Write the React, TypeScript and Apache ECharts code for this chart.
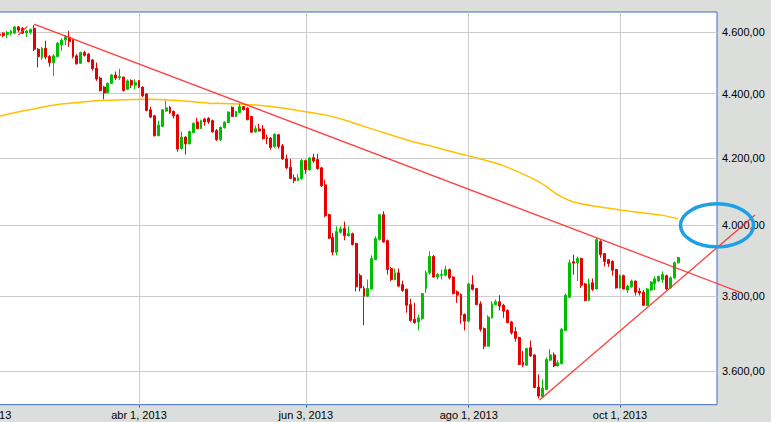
import React, { useEffect, useRef } from 'react';
import * as echarts from 'echarts';

// Trading calendar (Santiago exchange, 2013)
const START_DATE = '2013-02-01';
const CATEGORY_COUNT = 190;
const HOLIDAYS = ['2013-03-29', '2013-05-01', '2013-05-21', '2013-07-16', '2013-08-15', '2013-09-18', '2013-09-19', '2013-09-20', '2013-10-31', '2013-11-01'];
const LABEL_DATES = ['2013-02-01', '2013-04-01', '2013-06-03', '2013-08-01', '2013-10-01'];
const MONTHS_ES = ['ene', 'feb', 'mar', 'abr', 'may', 'jun', 'jul', 'ago', 'sep', 'oct', 'nov', 'dic'];

// index (in the calendar) of the first candle shown
const FIRST_CANDLE = 4;

const OPEN = [4594, 4597, 4593, 4595, 4597, 4618, 4613, 4598, 4600, 4613,
  4544, 4516, 4547, 4520, 4500, 4520, 4558, 4574, 4583, 4574,
  4522, 4498, 4533, 4528, 4509, 4482, 4450, 4421, 4403, 4433,
  4460, 4451, 4453, 4414, 4442, 4427, 4442, 4421, 4399, 4349,
  4330, 4268, 4297, 4345, 4357, 4344, 4333, 4229, 4264, 4243,
  4278, 4311, 4290, 4320, 4322, 4315, 4284, 4256, 4293, 4309,
  4357, 4328, 4340, 4359, 4354, 4328, 4280, 4289, 4289, 4263,
  4261, 4235, 4271, 4237, 4197, 4172, 4140, 4132, 4138, 4192,
  4164, 4201, 4195, 4170, 4119, 4031, 3965, 3923, 3980, 3991,
  3970, 3976, 3948, 3857, 3821, 3800, 3820, 3902, 3959, 4031,
  3956, 3877, 3846, 3865, 3832, 3819, 3777, 3737, 3730, 3739,
  3821, 3865, 3911, 3853, 3858, 3858, 3874, 3853, 3812, 3805,
  3750, 3732, 3832, 3821, 3779, 3712, 3665, 3741, 3777, 3785,
  3775, 3761, 3730, 3704, 3688, 3623, 3615, 3661, 3642, 3558,
  3533, 3552, 3628, 3642, 3613, 3619, 3707, 3797, 3896, 3893,
  3905, 3834, 3788, 3837, 3820, 3954, 3919, 3902, 3897, 3874,
  3823, 3857, 3817, 3826, 3842, 3814, 3811, 3775, 3817, 3835,
  3842, 3846, 3857, 3823, 3851, 3893];

const CLOSE = [4590, 4589, 4600, 4604, 4618, 4607, 4597, 4604, 4609, 4544,
  4520, 4547, 4518, 4500, 4522, 4564, 4574, 4585, 4569, 4520,
  4496, 4533, 4524, 4503, 4480, 4447, 4410, 4402, 4433, 4460,
  4450, 4455, 4410, 4441, 4428, 4435, 4421, 4393, 4347, 4326,
  4268, 4301, 4349, 4355, 4340, 4330, 4227, 4264, 4243, 4281,
  4307, 4290, 4315, 4311, 4311, 4280, 4256, 4294, 4310, 4342,
  4328, 4344, 4359, 4349, 4318, 4279, 4290, 4283, 4259, 4259,
  4232, 4272, 4235, 4197, 4170, 4138, 4132, 4140, 4192, 4164,
  4200, 4191, 4168, 4116, 4028, 3963, 3923, 3982, 3990, 3970,
  3976, 3945, 3826, 3823, 3800, 3821, 3905, 3962, 4031, 3952,
  3874, 3846, 3865, 3828, 3816, 3775, 3734, 3728, 3741, 3807,
  3865, 3911, 3853, 3860, 3860, 3874, 3851, 3807, 3803, 3748,
  3732, 3834, 3819, 3777, 3710, 3665, 3743, 3779, 3785, 3773,
  3759, 3728, 3701, 3686, 3617, 3615, 3659, 3639, 3557, 3535,
  3555, 3630, 3642, 3613, 3621, 3710, 3803, 3893, 3892, 3905,
  3830, 3788, 3834, 3819, 3959, 3916, 3897, 3891, 3872, 3823,
  3857, 3820, 3828, 3842, 3811, 3809, 3775, 3820, 3839, 3848,
  3855, 3860, 3820, 3851, 3893, 3908];

const LOW = [4587, 4584, 4580, 4589, 4594, 4600, 4594, 4584, 4593, 4538,
  4484, 4509, 4511, 4487, 4457, 4518, 4539, 4558, 4552, 4514,
  4494, 4496, 4520, 4501, 4474, 4441, 4407, 4382, 4401, 4431,
  4444, 4444, 4407, 4412, 4418, 4414, 4418, 4389, 4344, 4323,
  4266, 4267, 4296, 4343, 4336, 4322, 4219, 4225, 4210, 4242,
  4276, 4289, 4289, 4299, 4305, 4278, 4252, 4251, 4290, 4307,
  4327, 4326, 4338, 4347, 4316, 4278, 4278, 4281, 4256, 4242,
  4225, 4230, 4228, 4194, 4166, 4136, 4124, 4130, 4134, 4152,
  4162, 4185, 4164, 4113, 4024, 3961, 3914, 3914, 3976, 3957,
  3968, 3942, 3813, 3813, 3721, 3798, 3818, 3901, 3956, 3950,
  3860, 3842, 3844, 3825, 3812, 3755, 3730, 3725, 3707, 3734,
  3809, 3860, 3851, 3846, 3846, 3855, 3846, 3805, 3782, 3725,
  3707, 3730, 3816, 3775, 3704, 3657, 3664, 3739, 3775, 3761,
  3741, 3726, 3696, 3677, 3615, 3610, 3614, 3637, 3555, 3529,
  3532, 3550, 3626, 3610, 3612, 3617, 3706, 3796, 3860, 3842,
  3823, 3786, 3786, 3814, 3819, 3907, 3883, 3882, 3857, 3821,
  3821, 3819, 3809, 3823, 3802, 3802, 3773, 3773, 3814, 3817,
  3839, 3837, 3817, 3820, 3848, 3891];

const HIGH = [4598, 4600, 4604, 4608, 4620, 4621, 4618, 4608, 4613, 4624,
  4548, 4551, 4572, 4525, 4528, 4568, 4580, 4591, 4605, 4578,
  4528, 4536, 4539, 4532, 4512, 4500, 4455, 4425, 4436, 4463,
  4471, 4480, 4455, 4446, 4446, 4446, 4444, 4423, 4401, 4359,
  4333, 4315, 4351, 4378, 4361, 4347, 4335, 4281, 4266, 4284,
  4309, 4324, 4318, 4324, 4326, 4318, 4289, 4297, 4313, 4344,
  4360, 4346, 4368, 4361, 4357, 4330, 4299, 4305, 4301, 4272,
  4264, 4276, 4273, 4243, 4210, 4197, 4150, 4152, 4197, 4195,
  4202, 4213, 4213, 4173, 4134, 4034, 3978, 3997, 3997, 4011,
  3997, 3979, 3950, 3863, 3828, 3846, 3914, 3968, 4033, 4041,
  3959, 3881, 3877, 3877, 3843, 3821, 3793, 3782, 3750, 3809,
  3871, 3926, 3915, 3865, 3874, 3885, 3877, 3855, 3816, 3808,
  3753, 3837, 3858, 3823, 3786, 3715, 3748, 3786, 3791, 3803,
  3779, 3764, 3733, 3716, 3690, 3652, 3661, 3680, 3643, 3591,
  3578, 3635, 3657, 3648, 3628, 3714, 3807, 3902, 3916, 3911,
  3908, 3837, 3849, 3849, 3964, 3957, 3921, 3904, 3900, 3876,
  3860, 3860, 3832, 3846, 3843, 3823, 3817, 3823, 3842, 3855,
  3857, 3869, 3860, 3855, 3897, 3910];

// moving average: [calendar index, value]
const MA_POINTS = [[0, 4318], [4, 4329], [10, 4345], [15, 4357], [20, 4367], [25, 4373], [30, 4378],
  [36, 4381], [42, 4382], [50, 4378], [58, 4370], [64, 4368], [70, 4364], [76, 4356], [83, 4343],
  [88, 4333], [93, 4317], [98, 4297], [104, 4274], [110, 4252], [116, 4234], [122, 4215], [128, 4197],
  [134, 4176], [140, 4146], [144, 4122], [148, 4089], [152, 4068], [158, 4055], [164, 4045],
  [170, 4036], [175, 4029], [179, 4019]];

// hand-drawn trend lines: [calendar position, value]; they run past the last date
const TREND_DOWN = [[12.94, 4627], [195.2, 3810]];
const TREND_UP = [[143.26, 3525], [198.8, 4030]];
const TREND_SHORT = [[8.89, 4591], [11.21, 4619]];

// highlighted zone centre: [calendar position, value]
const HIGHLIGHT_CENTER = [189, 4000];

const Y_TICKS = [3600, 3800, 4000, 4200, 4400, 4600];
const Y_MIN = 3513;
const Y_MAX = 4668;

function pad(n: number) { return n < 10 ? '0' + n : '' + n; }

function buildCalendar(start: string, count: number, holidays: string[]) {
  const out: string[] = [];
  const [y, m, d] = start.split('-').map(Number);
  const t = new Date(Date.UTC(y, m - 1, d));
  while (out.length < count) {
    const dow = t.getUTCDay();
    const s = t.getUTCFullYear() + '-' + pad(t.getUTCMonth() + 1) + '-' + pad(t.getUTCDate());
    if (dow !== 0 && dow !== 6 && holidays.indexOf(s) < 0) out.push(s);
    t.setUTCDate(t.getUTCDate() + 1);
  }
  return out;
}

function fmtDate(s: string) {
  const [y, m, d] = s.split('-').map(Number);
  return MONTHS_ES[m - 1] + ' ' + d + ', ' + y;
}

function fmtNum(v: number) {
  const r = Math.round(v).toString();
  return r.replace(/\B(?=(\d{3})+(?!\d))/g, '.') + ',00';
}

export default function App() {
  const ref = useRef<HTMLDivElement>(null);
  useEffect(() => {
    if (!ref.current) return;
    const chart = echarts.init(ref.current, undefined, { renderer: 'svg' });
    const categories = buildCalendar(START_DATE, CATEGORY_COUNT, HOLIDAYS);
    const showAt = (_i: number, v: string) => LABEL_DATES.indexOf(v) >= 0;
    const candles = OPEN.map((o, k) => [FIRST_CANDLE + k, o, CLOSE[k], LOW[k], HIGH[k]]);
    const font = 'Liberation Sans, Arial, sans-serif';

    chart.setOption({
      animation: false,
      backgroundColor: '#dcdedb',
      grid: {
        left: 23.8, right: 54, top: 12, bottom: 17.3,
        outerBoundsMode: 'none',
        containLabel: false,
        show: true, backgroundColor: '#ffffff', borderColor: '#3a6bc9', borderWidth: 1,
      },
      xAxis: [
        {
          type: 'category',
          data: categories,
          boundaryGap: false,
          axisLine: { show: false },
          axisTick: { show: true, interval: showAt, length: 3, lineStyle: { color: '#3a6bc9' } },
          axisLabel: { interval: showAt, formatter: (v: string) => fmtDate(v), color: '#000', fontSize: 11, fontFamily: font, margin: 5 },
          splitLine: { show: true, interval: showAt, lineStyle: { color: '#cccccc', width: 1 } },
        },
        {
          // same calendar positions as a continuous scale, for the drawn lines
          type: 'value', min: 0, max: CATEGORY_COUNT - 1, show: false,
          splitLine: { show: false },
        },
      ],
      yAxis: {
        type: 'log',
        logBase: 10,
        position: 'right',
        min: Y_MIN,
        max: Y_MAX,
        axisLine: { show: false },
        axisTick: { show: true, length: 4, lineStyle: { color: '#3a6bc9' }, customValues: Y_TICKS },
        axisLabel: { customValues: Y_TICKS, formatter: (v: number) => fmtNum(v), color: '#000', fontSize: 11, fontFamily: font, margin: 5 },
        splitLine: { show: true, lineStyle: { color: '#cccccc', width: 1 } },
      },
      series: [
        {
          type: 'line', data: MA_POINTS, showSymbol: false, smooth: 0.3, z: 2,
          lineStyle: { color: '#ffc000', width: 1.5 },
        },
        {
          type: 'candlestick', data: candles, encode: { x: 0, y: [1, 2, 3, 4] }, barWidth: 2.4, z: 3,
          itemStyle: { color: '#00bf00', color0: '#e80000', borderColor: '#00bf00', borderColor0: '#e80000', borderWidth: 1 },
        },
      ],
    });

    const toPx = (p: number[]) => chart.convertToPixel({ xAxisIndex: 1, yAxisIndex: 0 }, p) as number[];
    const ok = (p: number[]) => p && isFinite(p[0]) && isFinite(p[1]);
    const graphics: any[] = [];
    [TREND_DOWN, TREND_UP, TREND_SHORT].forEach((line) => {
      const pts = line.map(toPx);
      if (pts.every(ok)) {
        graphics.push({
          type: 'polyline', z: 90, silent: true,
          shape: { points: pts },
          style: { stroke: '#ff2a2a', lineWidth: 1.3, opacity: 0.9, fill: null },
        });
      }
    });
    const c = toPx(HIGHLIGHT_CENTER);
    if (ok(c)) {
      graphics.push({
        type: 'ellipse', z: 100, silent: true,
        shape: { cx: c[0], cy: c[1], rx: 36.5, ry: 21.5 },
        style: { fill: 'none', stroke: '#1ca0e6', lineWidth: 3.5 },
      });
    }
    chart.setOption({ graphic: graphics });
    return () => chart.dispose();
  }, []);
  return <div ref={ref} style={{ position: 'fixed', left: -40, top: 0, width: 811, height: 422 }} />;
}
